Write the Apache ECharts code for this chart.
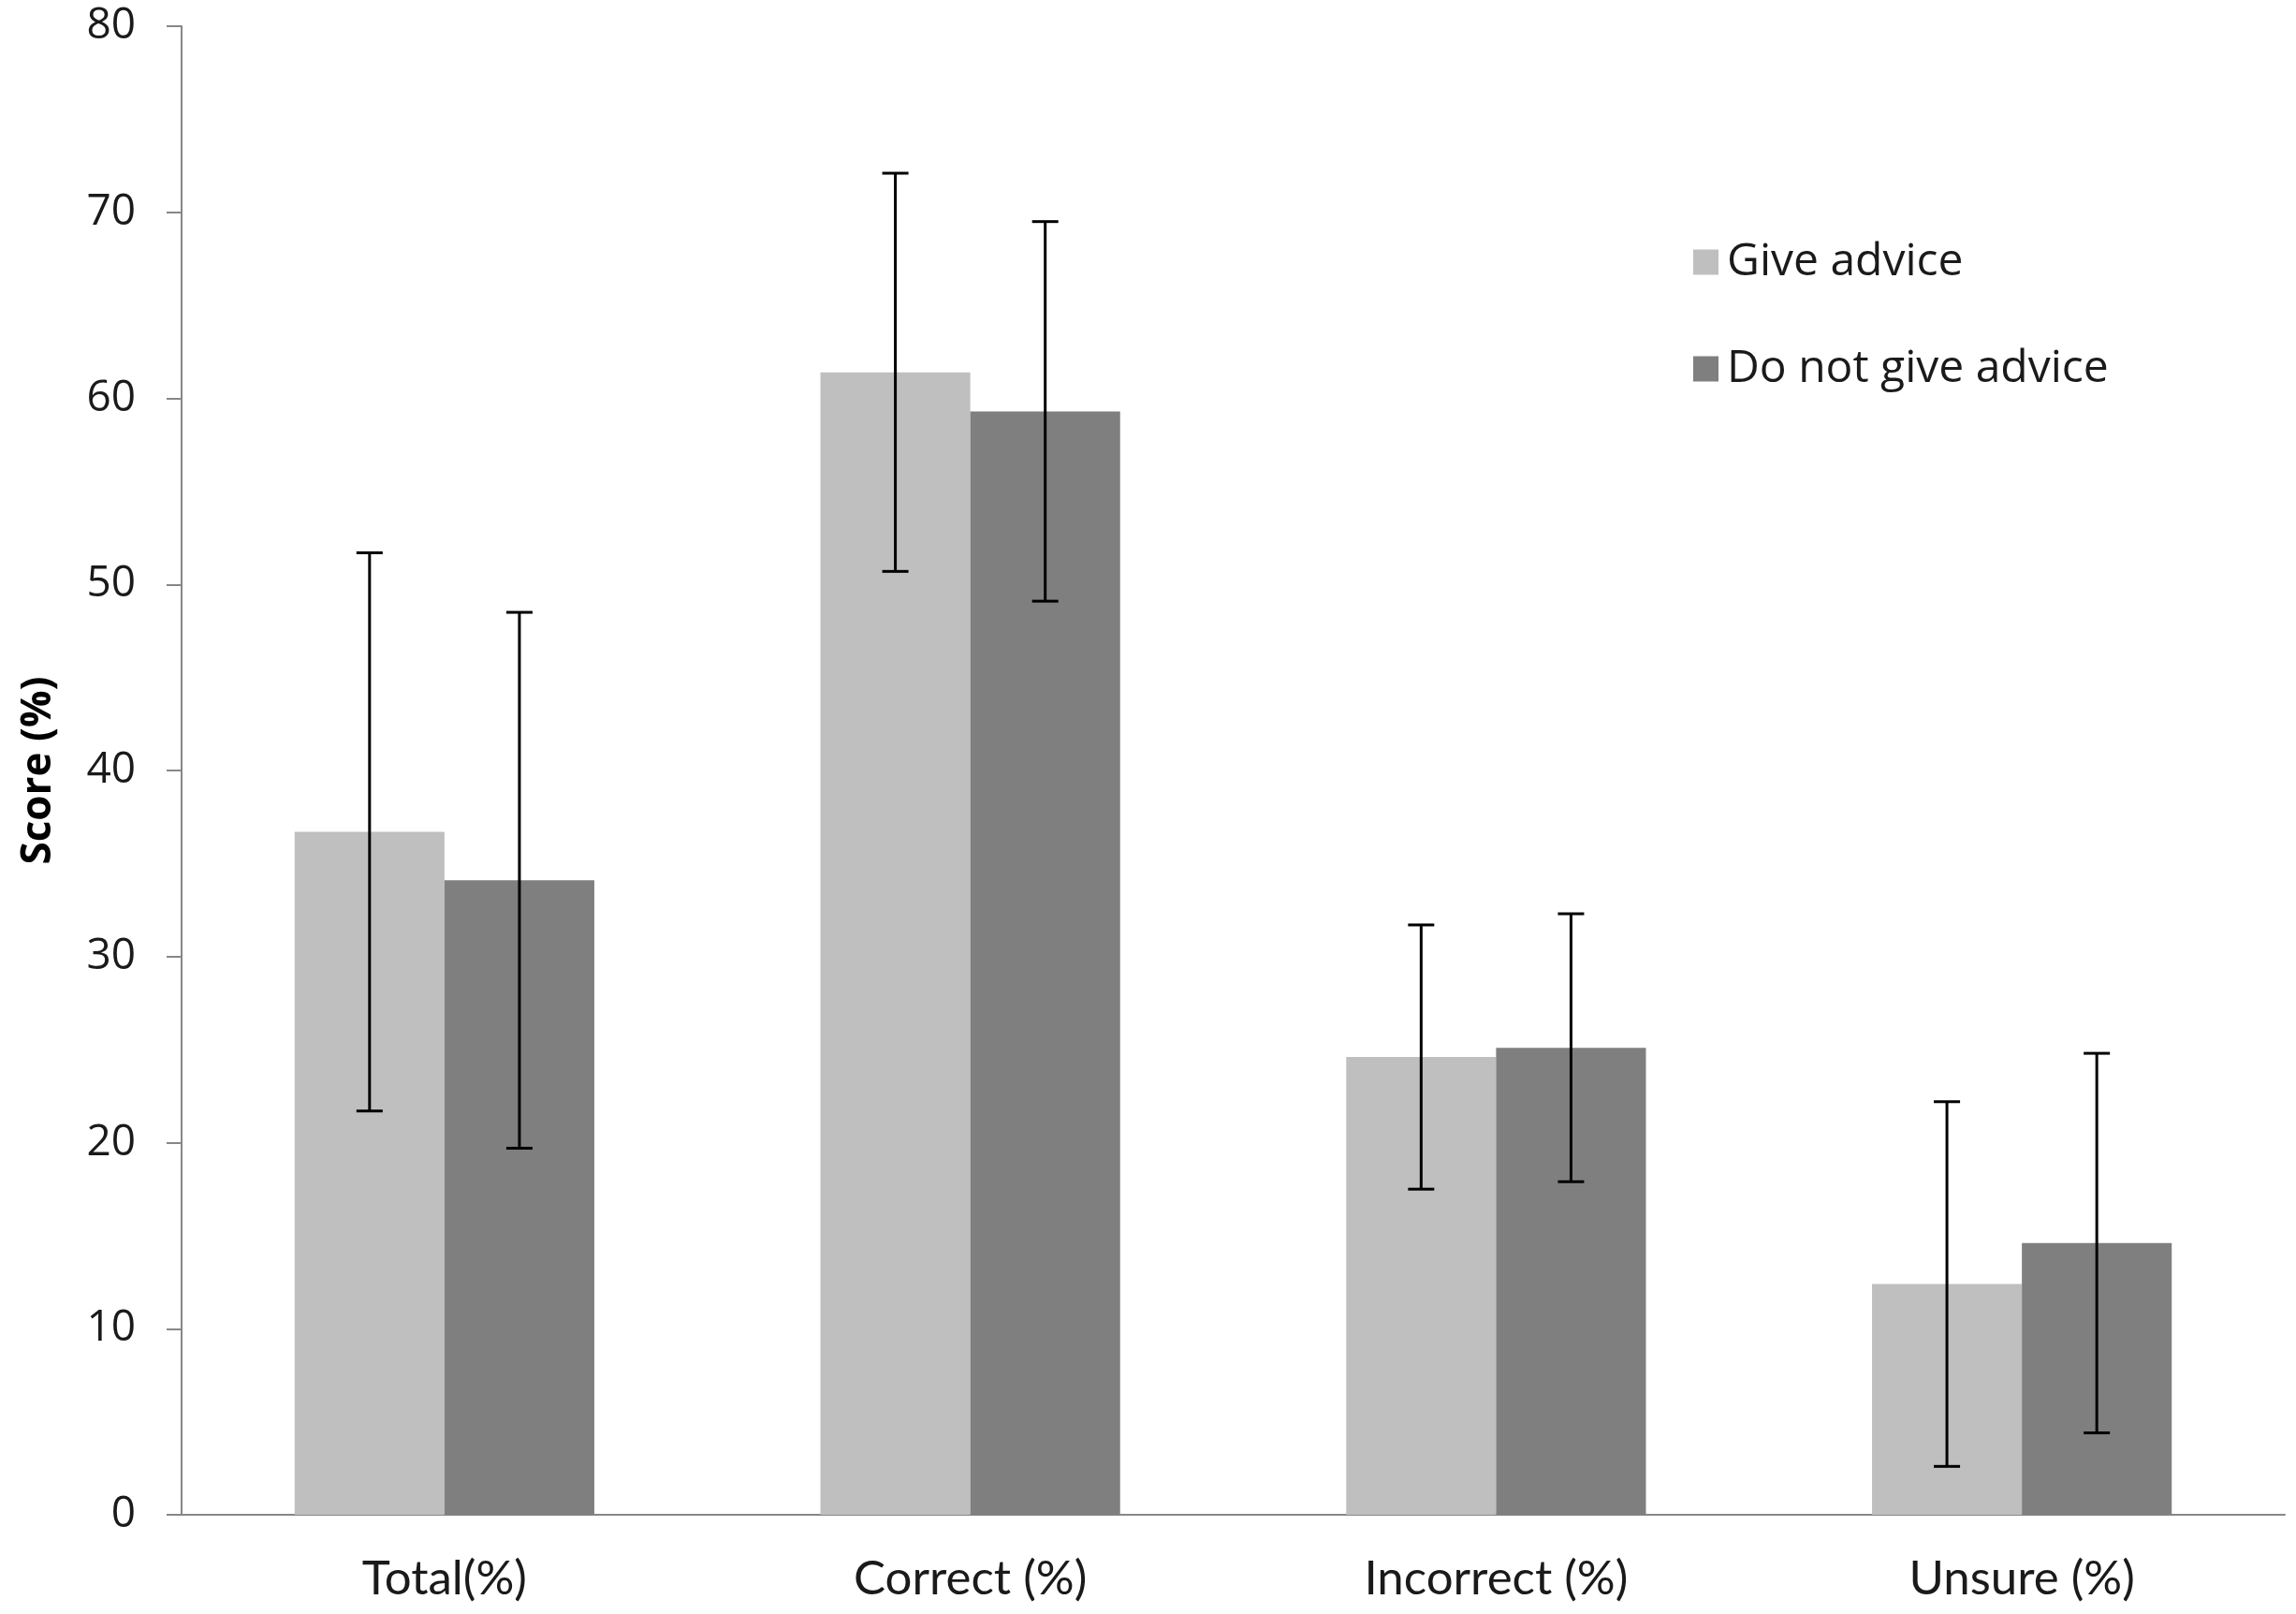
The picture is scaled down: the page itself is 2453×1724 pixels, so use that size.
<!DOCTYPE html>
<html>
<head>
<meta charset="utf-8">
<script src="https://cdn.jsdelivr.net/npm/echarts@6/dist/echarts.min.js"></script>
<style>
  html, body { margin: 0; padding: 0; background: #fff; }
  #chart { width: 2453px; height: 1724px; }
</style>
</head>
<body>
<div id="chart"></div>
<script>
const categories = ['Total(%)', 'Correct (%)', 'Incorrect (%)', 'Unsure (%)'];
const seriesNames = ['Give advice', 'Do not give advice'];
const giveAdvice = [36.7, 61.4, 24.6, 12.4];
const giveAdviceSD = [15.0, 10.7, 7.1, 9.8];
const noAdvice = [34.1, 59.3, 25.1, 14.6];
const noAdviceSD = [14.4, 10.2, 7.2, 10.2];
const yTicks = [0, 10, 20, 30, 40, 50, 60, 70, 80];

const BAR_FRAC = 0.285;
const lightColor = '#bfbfbf';
const darkColor = '#7f7f7f';
const axisColor = '#878787';

function errorSeries(means, sds, side) {
  return {
    type: 'custom',
    z: 10,
    silent: true,
    data: means.map((m, i) => [i, m, sds[i]]),
    renderItem: function (params, api) {
      const idx = api.value(0);
      const mean = api.value(1);
      const sd = api.value(2);
      const catW = api.size([1, 0])[0];
      const bw = catW * BAR_FRAC;
      const base = api.coord([idx, mean]);
      const x = base[0] + side * bw / 2;
      const yTop = api.coord([idx, mean + sd])[1];
      const yBot = api.coord([idx, mean - sd])[1];
      const cap = 14;
      const style = { stroke: '#000', lineWidth: 3 };
      return {
        type: 'group',
        children: [
          { type: 'line', shape: { x1: x, y1: yTop, x2: x, y2: yBot }, style: style },
          { type: 'line', shape: { x1: x - cap, y1: yTop, x2: x + cap, y2: yTop }, style: style },
          { type: 'line', shape: { x1: x - cap, y1: yBot, x2: x + cap, y2: yBot }, style: style }
        ]
      };
    }
  };
}

const chart = echarts.init(document.getElementById('chart'));
chart.setOption({
  backgroundColor: '#fff',
  animation: false,
  grid: { left: 194, right: 12, top: 28, bottom: 106, containLabel: false },
  legend: {
    orient: 'vertical',
    left: 1804,
    top: 250,
    itemWidth: 27,
    itemHeight: 27,
    itemGap: 64,
    icon: 'rect',
    data: seriesNames,
    textStyle: { fontFamily: 'Open Sans', fontSize: 48, color: '#1a1a1a', lineHeight: 50, padding: [0, 0, 0, 4] }
  },
  xAxis: {
    type: 'category',
    data: categories,
    axisLine: { show: true, lineStyle: { color: axisColor, width: 2 } },
    axisTick: { show: false },
    axisLabel: { fontFamily: 'Lato', fontSize: 51, color: '#1a1a1a', margin: 43 },
    splitLine: { show: false }
  },
  yAxis: {
    type: 'value',
    min: yTicks[0],
    max: yTicks[yTicks.length - 1],
    interval: 10,
    name: 'Score (%)',
    nameLocation: 'middle',
    nameRotate: 90,
    nameGap: 131,
    nameTextStyle: { fontFamily: 'Open Sans', fontWeight: 'bold', fontSize: 44, color: '#000' },
    axisLine: { show: true, lineStyle: { color: axisColor, width: 2 } },
    axisTick: { show: true, length: 16, lineStyle: { color: axisColor, width: 2 } },
    axisLabel: { fontFamily: 'Open Sans', fontSize: 46, color: '#1a1a1a', margin: 49 },
    splitLine: { show: false }
  },
  series: [
    {
      name: seriesNames[0],
      type: 'bar',
      data: giveAdvice,
      barWidth: (BAR_FRAC * 100) + '%',
      barGap: '0%',
      itemStyle: { color: lightColor }
    },
    {
      name: seriesNames[1],
      type: 'bar',
      data: noAdvice,
      barWidth: (BAR_FRAC * 100) + '%',
      barGap: '0%',
      itemStyle: { color: darkColor }
    },
    errorSeries(giveAdvice, giveAdviceSD, -1),
    errorSeries(noAdvice, noAdviceSD, 1)
  ]
});
</script>
</body>
</html>
